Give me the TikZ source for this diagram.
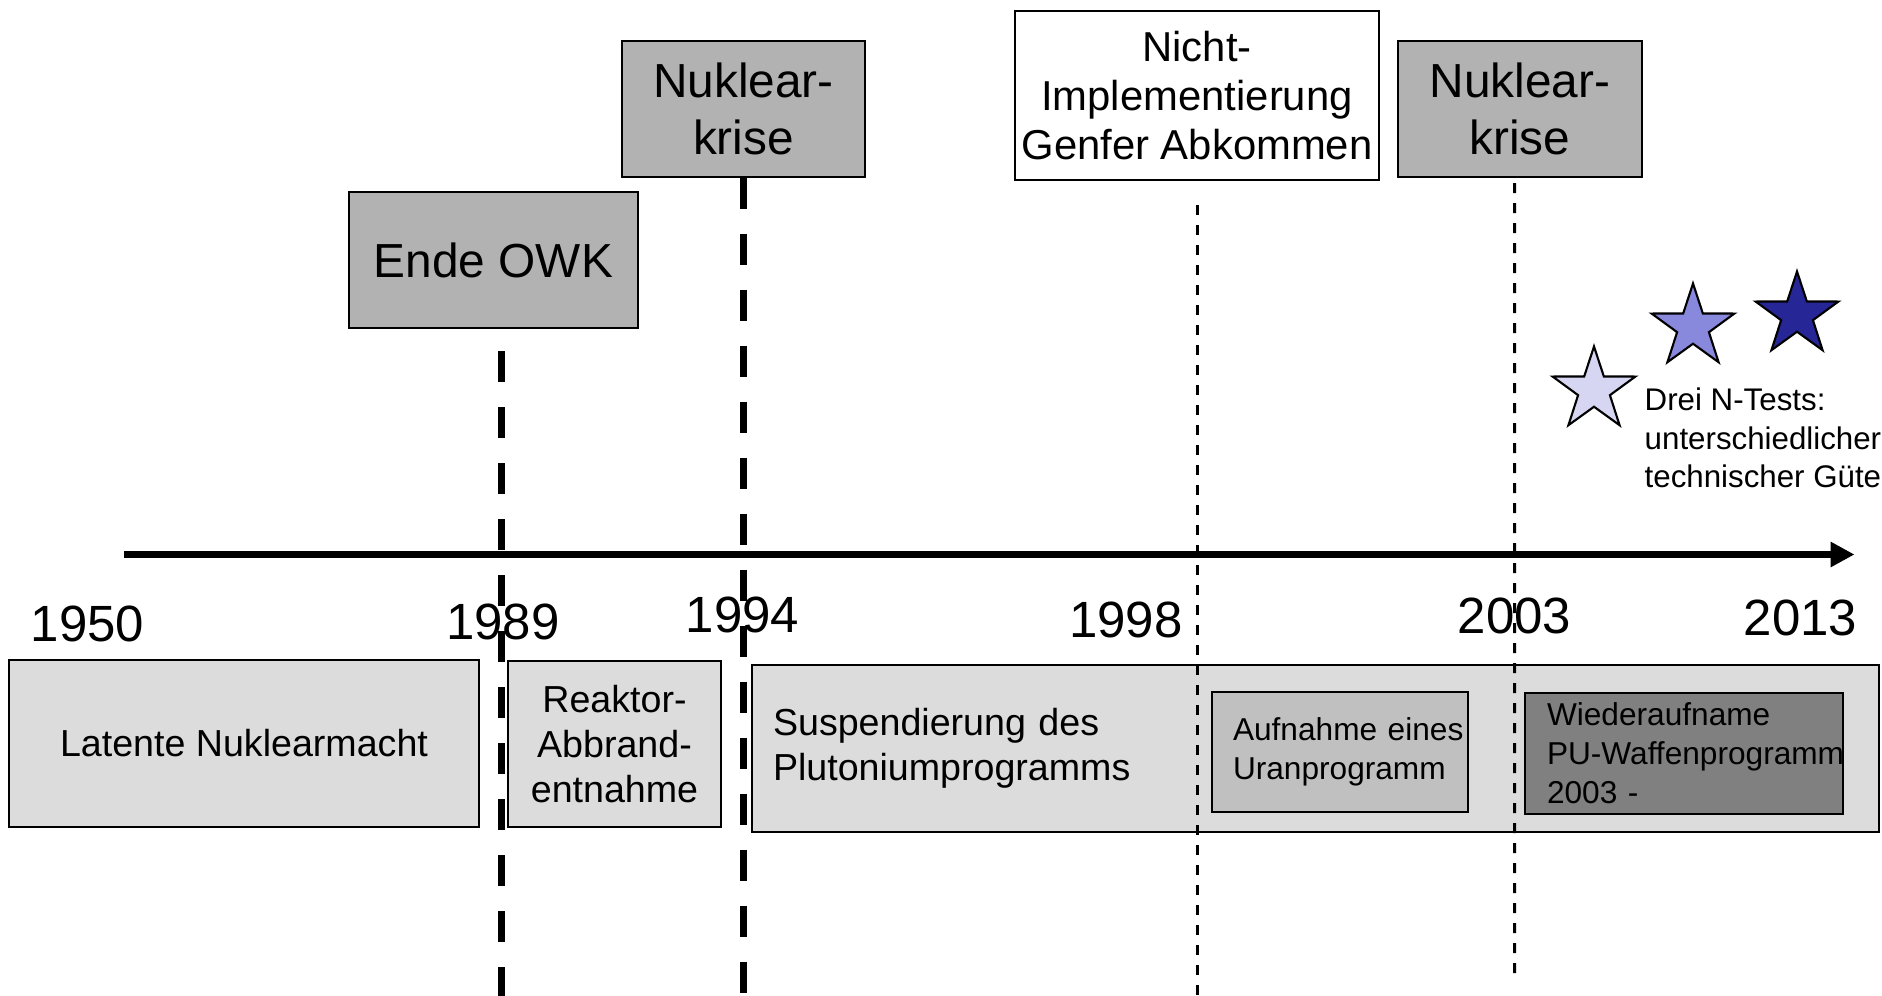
\documentclass[tikz,border=0pt]{standalone}
\usepackage{fontspec}
\setmainfont{Liberation Sans}
\usetikzlibrary{positioning,arrows.meta,calc,shapes.geometric}

\definecolor{phasegray}{HTML}{DCDCDC}
\definecolor{crisisgray}{HTML}{B2B2B2}
\definecolor{urangray}{HTML}{C0C0C0}
\definecolor{pugray}{HTML}{808080}
\definecolor{starlight}{HTML}{D6D6F2}
\definecolor{starmid}{HTML}{8888DD}
\definecolor{stardark}{HTML}{262696}

\begin{document}
\begin{tikzpicture}[
    every node/.style={inner sep=0pt},
    yearlabel/.style={font=\fontsize{14.5}{17}\selectfont},
    eventbox/.style={draw, line width=0.6pt, fill=crisisgray, align=center,
        font=\fontsize{13.6}{16.2}\selectfont},
    phasebox/.style={draw, line width=0.6pt, fill=phasegray, align=center,
        font=\fontsize{10.7}{12.8}\selectfont},
    subphase/.style={draw, line width=0.6pt, align=left, inner xsep=0.21cm,
        font=\fontsize{9}{11.1}\selectfont},
    testnote/.style={align=left, font=\fontsize{8.9}{11}\selectfont},
    teststar/.style={star, star points=5, star point ratio=2.6, draw, line width=0.6pt,
        minimum size=0.87cm},
    era/.style={line width=2pt, dash pattern=on 0.31cm off 0.25cm},
    marker/.style={line width=0.85pt, dash pattern=on 0.1cm off 0.1cm},
    timeaxis/.style={line width=2pt, -{Triangle[length=0.24cm, width=0.24cm]}}
]
\useasboundingbox (0,0) rectangle (18.82,-9.96);

% Events above the axis
\node[eventbox, minimum width=2.89cm, minimum height=1.36cm] (owk) at (4.935,-2.60) {Ende OWK};
\node[eventbox, minimum width=2.43cm, minimum height=1.36cm] (krise1) at (7.435,-1.09) {Nuklear-\\krise};
\node[eventbox, fill=white, font=\fontsize{11.9}{13.9}\selectfont,
      minimum width=3.64cm, minimum height=1.69cm] (genf) at (11.97,-0.955)
      {Nicht-\\Implementierung\\Genfer Abkommen};
\node[eventbox, minimum width=2.44cm, minimum height=1.36cm] (krise2) at (15.20,-1.09) {Nuklear-\\krise};

% Phases below the axis
\node[phasebox, minimum width=4.70cm, minimum height=1.67cm] (latent) at (2.44,-7.435) {Latente Nuklearmacht};
\node[phasebox, minimum width=2.13cm, minimum height=1.66cm] (reaktor) at (6.145,-7.44) {Reaktor-\\Abbrand-\\entnahme};
\node[phasebox, align=left, text width=10.85cm, inner xsep=0.21cm, minimum height=1.67cm]
      (plutonium) at (13.155,-7.485) {Suspendierung des\\Plutoniumprogramms};
  % sub-phases inside
  \node[subphase, fill=urangray, text width=2.14cm, minimum height=1.20cm] (uran) at (13.40,-7.52)
        {\mbox{Aufnahme eines}\\Uranprogramm};
  \node[subphase, fill=pugray, inner xsep=0.22cm, text width=2.74cm, minimum height=1.21cm] (pu) at (16.84,-7.535)
        {Wiederaufname\\\mbox{PU-Waffenprogramm}\\2003 -};

% Years
\node[yearlabel] (y1950) at (0.875,-6.24) {1950};
\node[yearlabel] (y1989) at (5.03,-6.215) {1989};
\node[yearlabel] (y1994) at (7.425,-6.15) {1994};
\node[yearlabel] (y1998) at (11.26,-6.20) {1998};
\node[yearlabel] (y2003) at (15.145,-6.155) {2003};
\node[yearlabel] (y2013) at (18.005,-6.175) {2013};

% Nuclear tests
\node[teststar, fill=starlight] (star1) at (15.94,-3.90) {};
\node[teststar, fill=starmid] (star2) at (16.93,-3.27) {};
\node[teststar, fill=stardark] (star3) at (17.97,-3.15) {};
\node[testnote, anchor=west] (tests) at (16.44,-4.38) {Drei N-Tests:\\unterschiedlicher\\technischer Güte};

% Axis and era lines
\coordinate (axisstart) at (1.24,-5.545);
\coordinate (axisend) at (18.545,-5.545);
\coordinate (bottom) at (0,-9.96);
\coordinate (end2003) at (15.145,-9.75);

\draw[timeaxis] (axisstart) -- (axisend);
\draw[era] ([xshift=0.08cm, yshift=-0.22cm]owk.south) -- ([xshift=0.08cm]owk.south |- bottom);
\draw[era] (krise1.south) -- (krise1.south |- bottom);
\draw[marker] ([yshift=-0.24cm]genf.south) -- (genf.south |- bottom);
\draw[marker] ([xshift=-0.055cm, yshift=-0.05cm]krise2.south) -- (end2003);

\end{tikzpicture}
\end{document}
